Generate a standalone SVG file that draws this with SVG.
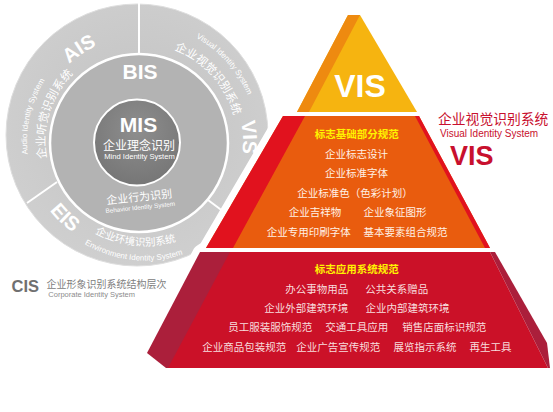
<svg xmlns="http://www.w3.org/2000/svg" width="553" height="412" viewBox="0 0 553 412">
<style>
.cn{font-family:"Noto Sans CJK SC","Noto Sans",sans-serif;}
.en{font-family:"Liberation Sans",Arial,sans-serif;}
.w{fill:#ffffff;}
.pt{fill:#fff1e6;font-size:10.5px;text-anchor:middle;}
.pb{fill:#f8dede;font-size:10.5px;text-anchor:middle;}
.hd{fill:#fff200;font-size:10.5px;font-weight:bold;text-anchor:middle;}
.div{stroke:#ffffff;stroke-width:2;fill:none;}
</style>
<defs>
<radialGradient id="gOuter" cx="0.5" cy="0.45" r="0.55">
<stop offset="0" stop-color="#c2c2c2"/>
<stop offset="1" stop-color="#cfcfcf"/>
</radialGradient>
<radialGradient id="gMis" cx="0.5" cy="0.35" r="0.65">
<stop offset="0" stop-color="#8e8e8e"/>
<stop offset="1" stop-color="#767676"/>
</radialGradient>
<path id="pAIS" d="M35.8,128.3 A104,104 0 0 1 169.4,41.5"/>
<path id="pAIScn" d="M67,201.4 A94,94 0 0 1 114.7,50.2"/>
<path id="pAISen" d="M49.6,208.4 A112,112 0 0 1 88.2,41.2"/>
<path id="pVISen" d="M134.9,23.1 A118,118 0 0 1 255.9,157.4"/>
<path id="pVIScn" d="M122,44.5 A98,98 0 0 1 233.2,168"/>
<path id="pVIS" d="M203,59 A104,104 0 0 1 208.6,218.3"/>
<path id="pEIS" d="M26.3,133.1 A113,113 0 0 0 150.8,253.4"/>
<path id="pEIScn" d="M59.1,200.6 A104,104 0 0 0 217.6,216.4"/>
<path id="pEISen" d="M36.7,190.2 A118.5,118.5 0 0 0 240.9,211.7"/>
</defs>

<g id="cis-circle">
<circle cx="137" cy="135" r="131" fill="url(#gOuter)" stroke="#dedede" stroke-width="1"/>
<line class="div" x1="139" y1="3" x2="139" y2="55"/>
<line class="div" x1="27" y1="203" x2="57" y2="182"/>
<line class="div" x1="208" y1="200" x2="224" y2="212"/>
</g>

<g id="ais">
<text class="en w" font-size="20" font-weight="bold"><textPath href="#pAIS" startOffset="50%" text-anchor="middle">AIS</textPath></text>
<text class="cn w" font-size="11.5"><textPath href="#pAIScn" startOffset="50%" text-anchor="middle">企业听觉识别系统</textPath></text>
<text class="en w" font-size="8"><textPath href="#pAISen" startOffset="50%" text-anchor="middle">Audio Identity System</textPath></text>
</g>

<g id="vis-ring">
<text class="en w" font-size="8"><textPath href="#pVISen" startOffset="50%" text-anchor="middle">Visual Identity System</textPath></text>
<text class="cn w" font-size="11.5"><textPath href="#pVIScn" startOffset="50%" text-anchor="middle">企业视觉识别系统</textPath></text>
<text class="en w" font-size="20" font-weight="bold"><textPath href="#pVIS" startOffset="50%" text-anchor="middle">VIS</textPath></text>
</g>

<g id="eis">
<text class="en w" font-size="20" font-weight="bold"><textPath href="#pEIS" startOffset="50%" text-anchor="middle">EIS</textPath></text>
<text class="cn w" font-size="10.5"><textPath href="#pEIScn" startOffset="50%" text-anchor="middle">企业环境识别系统</textPath></text>
<text class="en w" font-size="8"><textPath href="#pEISen" startOffset="50%" text-anchor="middle">Environment Identity System</textPath></text>
</g>

<g id="bis">
<circle cx="139" cy="143" r="89" fill="#b3b3b3" stroke="#ffffff" stroke-width="2.5"/>
<text class="en w" x="140" y="79" font-size="21" font-weight="bold" text-anchor="middle">BIS</text>
<g transform="rotate(-6 139.5 200)">
<text class="cn w" x="139.5" y="200.9" font-size="11" text-anchor="middle">企业行为识别</text>
<text class="en w" x="139.5" y="209.5" font-size="6.3" text-anchor="middle">Behavior Identity System</text>
</g>
</g>

<g id="mis">
<circle cx="137" cy="142.5" r="43" fill="url(#gMis)" stroke="#ffffff" stroke-width="2"/>
<text class="en w" x="138.5" y="132" font-size="21" font-weight="bold" text-anchor="middle">MIS</text>
<text class="cn w" x="139" y="150.3" font-size="12" text-anchor="middle">企业理念识别</text>
<text class="en w" x="139.5" y="159.3" font-size="7.6" text-anchor="middle">Mind Identity System</text>
</g>

<g id="cis-label">
<text class="en" x="11.5" y="291.7" font-size="16.5" font-weight="bold" fill="#707070">CIS</text>
<text class="cn" x="46.5" y="288" font-size="10" fill="#808080">企业形象识别系统结构层次</text>
<text class="en" x="48.3" y="297" font-size="7.5" fill="#8c8c8c">Corporate Identity System</text>
</g>

<g id="connectors">
<polyline points="293,100 283,116 206,248 200,252 147,353" fill="none" stroke="#ffffff" stroke-width="14" stroke-linejoin="round"/>
</g>

<g id="pyramid-top">
<polygon points="348,15 360,15 417,112 297,112" fill="#f6b410"/>
<polygon points="348,15 360,15 309,112 297,112" fill="#ee8a10"/>
<text class="en w" x="360" y="96.7" font-size="32" font-weight="bold" text-anchor="middle">VIS</text>
</g>

<g id="pyramid-middle">
<polygon points="283,116 419,116 490,248 206,248" fill="#e95c0e"/>
<polygon points="283,116 305,116 233,248 206,248" fill="#e1121e"/>
<polygon points="415,116 419,116 490,248 485,248" fill="#e1121e"/>
<text class="cn hd" x="356.7" y="138">标志基础部分规范</text>
<text class="cn pt" x="356.6" y="158.3">企业标志设计</text>
<text class="cn pt" x="356.6" y="177.3">企业标准字体</text>
<text class="cn pt" x="355" y="196.7">企业标准色（色彩计划）</text>
<text class="cn pt" x="315" y="215.7">企业吉祥物</text>
<text class="cn pt" x="395" y="215.7">企业象征图形</text>
<text class="cn pt" x="308.7" y="235.7">企业专用印刷字体</text>
<text class="cn pt" x="405.5" y="235.7">基本要素组合规范</text>
</g>

<g id="pyramid-bottom">
<polygon points="228,252 490,252 548,368 166,368" fill="#cb1128"/>
<polygon points="200,252 230,252 168,368 166,368 147,353" fill="#ab1f3b"/>
<polygon points="490,252 495,252 547,343 550,368 548,368" fill="#ab1f3b"/>
<text class="cn hd" x="356.7" y="273.3">标志应用系统规范</text>
<text class="cn pb" x="316.7" y="293.3">办公事物用品</text>
<text class="cn pb" x="396.7" y="293.3">公共关系赠品</text>
<text class="cn pb" x="306.3" y="312.3">企业外部建筑环境</text>
<text class="cn pb" x="407.5" y="312.3">企业内部建筑环境</text>
<text class="cn pb" x="270.2" y="331.3">员工服装服饰规范</text>
<text class="cn pb" x="356.7" y="331.3">交通工具应用</text>
<text class="cn pb" x="444.2" y="331.3">销售店面标识规范</text>
<text class="cn pb" x="244.2" y="351.3">企业商品包装规范</text>
<text class="cn pb" x="338.3" y="351.3">企业广告宣传规范</text>
<text class="cn pb" x="425" y="351.3">展览指示系统</text>
<text class="cn pb" x="490.5" y="351.3">再生工具</text>
</g>

<g id="vis-label">
<text class="cn" x="438" y="124" font-size="13.8" fill="#c8102e">企业视觉识别系统</text>
<text class="en" x="440" y="137" font-size="10" fill="#c8102e">Visual Identity System</text>
<text class="en" x="450" y="165" font-size="27" font-weight="bold" fill="#c8102e">VIS</text>
</g>
</svg>
